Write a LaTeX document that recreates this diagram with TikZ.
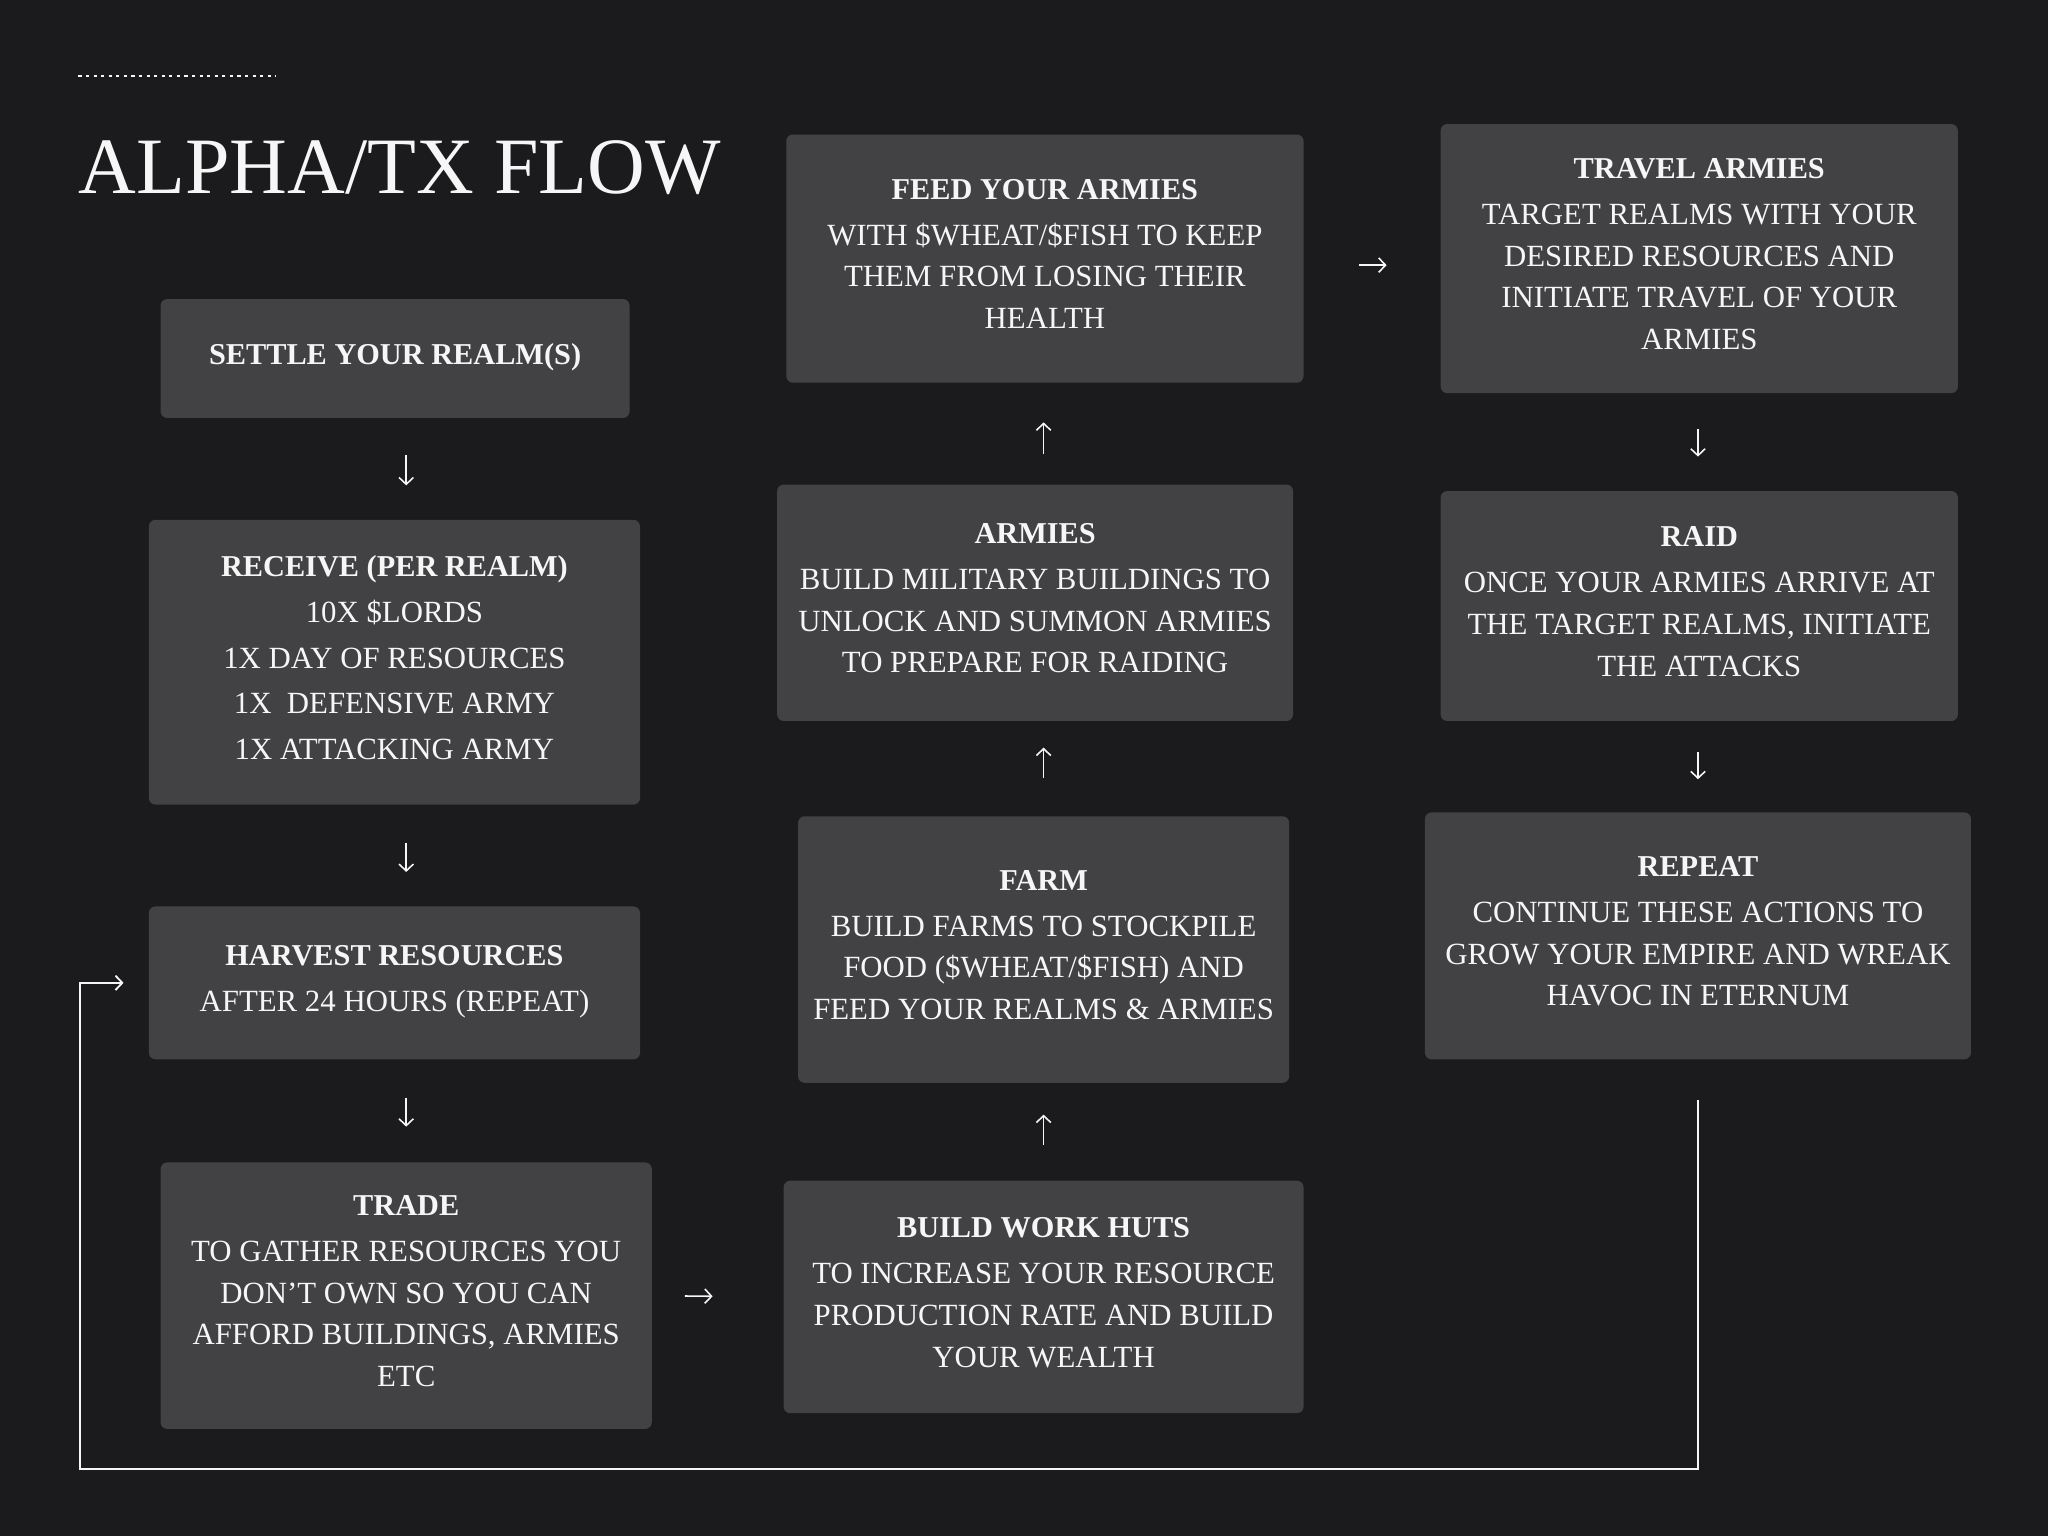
\documentclass[tikz,border=0pt]{standalone}
\usepackage{fontspec}
\setmainfont{Liberation Serif}
\usetikzlibrary{arrows.meta}
\definecolor{bgc}{HTML}{1B1B1D}
\definecolor{boxc}{HTML}{424244}
\definecolor{txt}{HTML}{F6F6F6}
\newcommand{\hd}[1]{{\fontsize{11.6}{16}\selectfont\textbf{#1}}}
\begin{document}
\begin{tikzpicture}[x=0.5pt,y=-0.5pt,
  card/.style={fill=boxc, rounded corners=2.5pt, inner sep=0pt, align=center, text=txt,
    font=\fontsize{11.8}{16}\selectfont, execute at end node={\rule[-3.5pt]{0pt}{3.5pt}}},
  arr/.style={draw=txt, line width=0.6pt, -{Straight Barb[length=2.6pt,width=5.5pt]}},
  loopline/.style={draw=txt, line width=0.7pt, -{Straight Barb[length=2.6pt,width=5.5pt]}}]
\fill[bgc] (0,0) rectangle (1568,1176);
\useasboundingbox (0,0) rectangle (1568,1176);

% header
\coordinate (dotA) at (60,58);
\coordinate (dotB) at (211,58);
\draw[txt, line width=0.7pt, dash pattern=on 1.2pt off 1.7pt] (dotA) -- (dotB);
\node[anchor=base west, inner sep=0pt, text=txt, font=\fontsize{30.6}{36}\selectfont] (title) at (60,148) {ALPHA/TX FLOW};

% left column
\node[card, minimum width=179.5pt, minimum height=45.5pt] (settle) at (302.5,274.5)
  {\hd{SETTLE YOUR REALM(S)}};
\node[card, minimum width=188pt, minimum height=109pt] (receive) at (302,507)
  {\hd{RECEIVE (PER REALM)}\\[1.5pt] 10X \$LORDS\\[1.5pt] 1X DAY OF RESOURCES\\[1.5pt] 1X\ \ DEFENSIVE ARMY\\[1.5pt] 1X ATTACKING ARMY};
\node[card, minimum width=188pt, minimum height=58.5pt] (harvest) at (302,752.5)
  {\hd{HARVEST RESOURCES}\\[1.5pt] AFTER 24 HOURS (REPEAT)};
\node[card, minimum width=188pt, minimum height=102pt] (trade) at (311,992)
  {\hd{TRADE}\\[1.5pt] TO GATHER RESOURCES YOU\\ DON’T OWN SO YOU CAN\\ AFFORD BUILDINGS, ARMIES\\ ETC};

% middle column
\node[card, minimum width=198pt, minimum height=95pt] (feed) at (800,198)
  {\hd{FEED YOUR ARMIES}\\[1.5pt] WITH \$WHEAT/\$FISH TO KEEP\\ THEM FROM LOSING THEIR\\ HEALTH};
\node[card, minimum width=197.5pt, minimum height=90.5pt] (armies) at (792.5,461.5)
  {\hd{ARMIES}\\[1.5pt] BUILD MILITARY BUILDINGS TO\\ UNLOCK AND SUMMON ARMIES\\ TO PREPARE FOR RAIDING};
\node[card, minimum width=188pt, minimum height=102pt] (farm) at (799,727)
  {\hd{FARM}\\[1.5pt] BUILD FARMS TO STOCKPILE\\ FOOD (\$WHEAT/\$FISH) AND\\ FEED YOUR REALMS \& ARMIES};
\node[card, minimum width=199pt, minimum height=89pt] (huts) at (799,993)
  {\hd{BUILD WORK HUTS}\\[1.5pt] TO INCREASE YOUR RESOURCE\\ PRODUCTION RATE AND BUILD\\ YOUR WEALTH};

% right column
\node[card, minimum width=198pt, minimum height=103pt] (travel) at (1301,198)
  {\hd{TRAVEL ARMIES}\\[1.5pt] TARGET REALMS WITH YOUR\\ DESIRED RESOURCES AND\\ INITIATE TRAVEL OF YOUR\\ ARMIES};
\node[card, minimum width=198pt, minimum height=88pt] (raid) at (1301,464)
  {\hd{RAID}\\[1.5pt] ONCE YOUR ARMIES ARRIVE AT\\ THE TARGET REALMS, INITIATE\\ THE ATTACKS};
\node[card, minimum width=209pt, minimum height=94.5pt] (repeat) at (1300,716.5)
  {\hd{REPEAT}\\[1.5pt] CONTINUE THESE ACTIONS TO\\ GROW YOUR EMPIRE AND WREAK\\ HAVOC IN ETERNUM};

% connectors
\draw[arr, shorten <=14pt, shorten >=13pt] ([xshift=4.25pt]settle.south) -- ([xshift=4.5pt]receive.north);
\draw[arr, shorten <=14.5pt, shorten >=13pt] ([xshift=4.5pt]receive.south) -- ([xshift=4.5pt]harvest.north);
\draw[arr, shorten <=14.5pt, shorten >=13.5pt] ([xshift=4.5pt]harvest.south) -- (trade.north);
\draw[arr, shorten <=12.5pt, shorten >=27pt] (trade.east) -- (huts.west);
\draw[arr, shorten <=13.5pt, shorten >=12pt] (huts.north) -- (farm.south);
\draw[arr, shorten <=14.5pt, shorten >=10pt] (farm.north) -- ([xshift=3.25pt]armies.south);
\draw[arr, shorten <=11.5pt, shorten >=15pt] ([xshift=3.25pt]armies.north) -- ([xshift=-0.5pt]feed.south);
\draw[arr, shorten <=21pt, shorten >=20.5pt] ([yshift=-2.5pt]feed.east) -- ([yshift=-2.5pt]travel.west);
\draw[arr, shorten <=13.5pt, shorten >=13pt] ([xshift=-0.5pt]travel.south) -- ([xshift=-0.5pt]raid.north);
\draw[arr, shorten <=11.5pt, shorten >=12.5pt] ([xshift=-0.5pt]raid.south) -- (repeat.north);

\coordinate (lpA) at (1300,1125);
\coordinate (lpB) at (61,1125);
\draw[loopline, shorten <=15.5pt, shorten >=9.5pt] (repeat.south) -- (lpA) -- (lpB) |- (harvest.west);
\end{tikzpicture}
\end{document}
